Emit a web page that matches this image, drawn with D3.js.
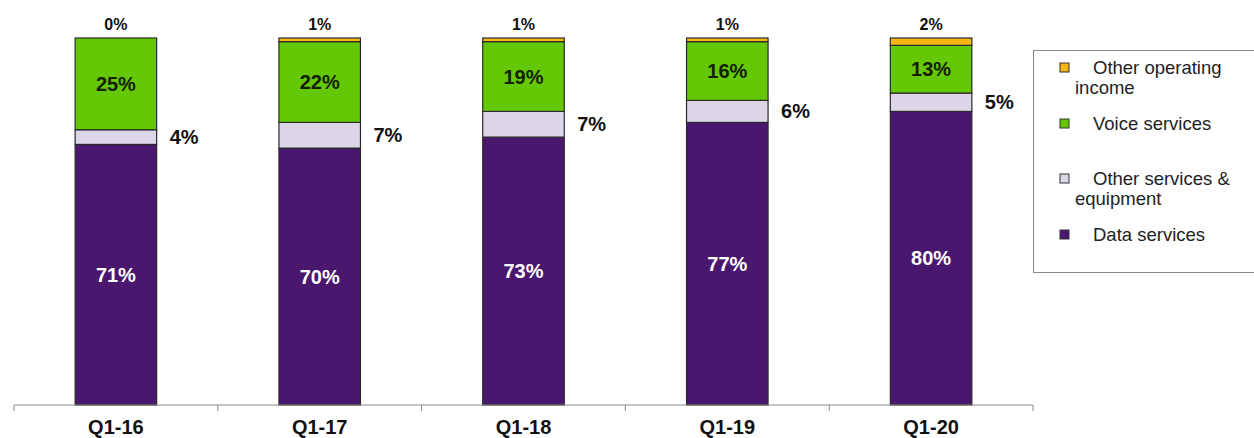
<!DOCTYPE html>
<html>
<head>
<meta charset="utf-8">
<script src="https://cdn.jsdelivr.net/npm/d3@7"></script>
<style>
  body { margin: 0; background: #fff; }
  svg { font-family: "Liberation Sans", Arial, sans-serif; }
</style>
</head>
<body>
<div id="chart"></div>
<script>
const quarters = ["Q1-16", "Q1-17", "Q1-18", "Q1-19", "Q1-20"];
const dataServices = [71, 70, 73, 77, 80];
const otherServices = [4, 7, 7, 6, 5];
const voiceServices = [25, 22, 19, 16, 13];
const otherIncome = [0, 1, 1, 1, 2];

const seriesNames = ["Data services", "Other services & equipment", "Voice services", "Other operating income"];
const legendLines = [
    ["Other operating", "income"],
    ["Voice services"],
    ["Other services &", "equipment"],
    ["Data services"]
];
const colors = ["#4a176f", "#ddd5e8", "#64c806", "#f6b70f"];

const width = 1254, height = 438;

const rows = quarters.map((q, i) => ({
    q,
    "Data services": dataServices[i],
    "Other services & equipment": otherServices[i],
    "Voice services": voiceServices[i],
    "Other operating income": otherIncome[i]
}));

const series = d3.stack().keys(seriesNames)(rows);

const x = d3.scaleBand()
    .domain(quarters)
    .range([14, 1033])
    .paddingInner(0.6)
    .paddingOuter(0.3);

const y = d3.scaleLinear()
    .domain([0, 100])
    .range([405, 38]);

const color = d3.scaleOrdinal().domain(seriesNames).range(colors);

const svg = d3.select("#chart").append("svg")
    .attr("width", width)
    .attr("height", height);

// bars
const groups = svg.selectAll("g.series")
    .data(series)
    .enter().append("g")
    .attr("class", "series")
    .attr("fill", d => color(d.key));

groups.selectAll("rect")
    .data(d => d)
    .enter().append("rect")
    .attr("x", d => x(d.data.q))
    .attr("y", d => y(d[1]))
    .attr("width", x.bandwidth())
    .attr("height", d => y(d[0]) - y(d[1]))
    .attr("stroke", "#2a2a2a")
    .attr("stroke-width", 1.2);

// x axis
const axisY = y(0);
const axis = svg.append("g")
    .attr("transform", `translate(0,${axisY})`)
    .call(d3.axisBottom(x).tickSize(0).tickPadding(15));
axis.select(".domain").attr("stroke", "#888").attr("d", `M${x.range()[0]},0H${x.range()[1]}`);
axis.selectAll("text")
    .attr("font-size", 20)
    .attr("font-weight", "bold")
    .attr("fill", "#111")
    .attr("font-family", "Liberation Sans, Arial, sans-serif");

const bounds = quarters.map(q => x(q) - x.step() * x.paddingOuter());
bounds.push(x.range()[1]);
svg.append("g").selectAll("line")
    .data(bounds)
    .enter().append("line")
    .attr("x1", d => d).attr("x2", d => d)
    .attr("y1", axisY).attr("y2", axisY + 6)
    .attr("stroke", "#888");

// labels
const labels = svg.append("g")
    .attr("font-weight", "bold")
    .attr("font-size", 20);

const [dataS, otherS, voiceS, incomeS] = series;

labels.selectAll("text.data")
    .data(dataS).enter().append("text")
    .attr("x", d => x(d.data.q) + x.bandwidth() / 2)
    .attr("y", d => (y(d[0]) + y(d[1])) / 2)
    .attr("dy", "0.35em")
    .attr("text-anchor", "middle")
    .attr("fill", "#fff")
    .text(d => (d[1] - d[0]) + "%");

labels.selectAll("text.voice")
    .data(voiceS).enter().append("text")
    .attr("x", d => x(d.data.q) + x.bandwidth() / 2)
    .attr("y", d => (y(d[0]) + y(d[1])) / 2)
    .attr("dy", "0.35em")
    .attr("text-anchor", "middle")
    .attr("fill", "#142000")
    .text(d => (d[1] - d[0]) + "%");

labels.selectAll("text.other")
    .data(otherS).enter().append("text")
    .attr("x", d => x(d.data.q) + x.bandwidth() + 13)
    .attr("y", d => (y(d[0]) + y(d[1])) / 2)
    .attr("dy", "0.35em")
    .attr("text-anchor", "start")
    .attr("fill", "#111")
    .text(d => (d[1] - d[0]) + "%");

labels.selectAll("text.income")
    .data(incomeS).enter().append("text")
    .attr("x", d => x(d.data.q) + x.bandwidth() / 2)
    .attr("y", d => y(d[1]) - 14)
    .attr("dy", "0.35em")
    .attr("text-anchor", "middle")
    .attr("font-size", 16)
    .attr("fill", "#111")
    .text(d => (d[1] - d[0]) + "%");

// legend
const legend = svg.append("g");
legend.append("rect")
    .attr("x", 1033.5).attr("y", 50.5)
    .attr("width", 240).attr("height", 222)
    .attr("fill", "none")
    .attr("stroke", "#888");

const legendOrder = ["Other operating income", "Voice services", "Other services & equipment", "Data services"];
const legendY = [68, 124, 179, 235];

legendOrder.forEach((name, i) => {
    const cy = legendY[i];
    legend.append("rect")
        .attr("x", 1060).attr("y", cy - 5)
        .attr("width", 9).attr("height", 9)
        .attr("fill", color(name))
        .attr("stroke", "#333")
        .attr("stroke-width", 1);
    const t = legend.append("text")
        .attr("font-size", 18.5)
        .attr("fill", "#222");
    legendLines[i].forEach((line, j) => {
        t.append("tspan")
            .attr("x", j === 0 ? 1093 : 1075)
            .attr("y", cy + j * 20)
            .attr("dy", "0.35em")
            .text(line);
    });
});
</script>
</body>
</html>
